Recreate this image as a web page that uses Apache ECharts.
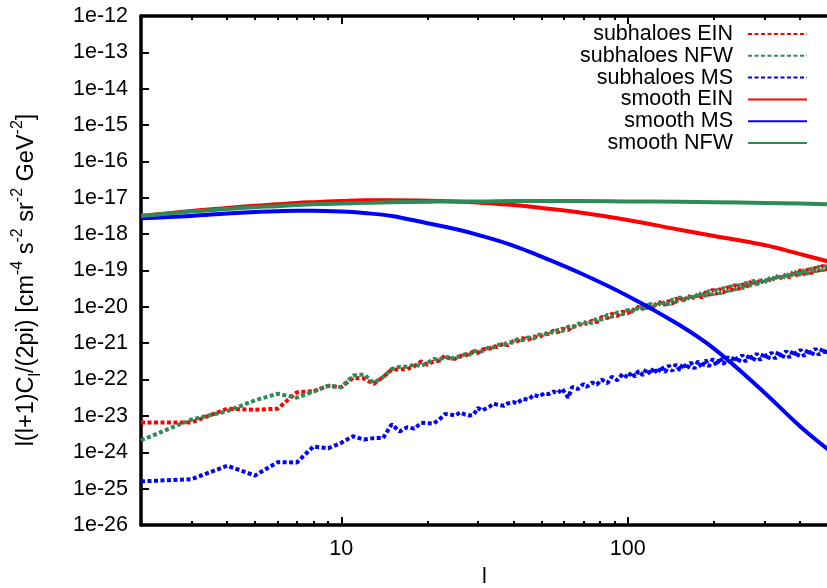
<!DOCTYPE html>
<html><head><meta charset="utf-8">
<script src="https://cdn.jsdelivr.net/npm/echarts@6/dist/echarts.min.js"></script>
<style>html,body{margin:0;padding:0;background:#fff}#c{width:827px;height:588px}</style>
</head><body><div id="c"></div>
<script>
// ---- data (values stored as log10 of l(l+1)C_l/(2pi)) ----
const lSmooth = [2,3,4,5,6,7,8,10,12,15,20,25,30,40,50,70,100,150,200,300,400,500];
const smoothNFW = [-17.50,-17.38,-17.31,-17.26,-17.23,-17.20,-17.18,-17.16,-17.14,-17.12,-17.11,-17.10,-17.10,-17.09,-17.09,-17.09,-17.10,-17.11,-17.12,-17.14,-17.16,-17.18];
const smoothEIN = [-17.50,-17.36,-17.28,-17.22,-17.18,-17.14,-17.12,-17.09,-17.07,-17.07,-17.08,-17.10,-17.13,-17.20,-17.28,-17.42,-17.61,-17.87,-18.05,-18.30,-18.55,-18.75];
const smoothMS  = [-17.56,-17.50,-17.43,-17.39,-17.37,-17.36,-17.36,-17.38,-17.42,-17.50,-17.70,-17.86,-18.02,-18.32,-18.62,-19.11,-19.70,-20.48,-21.15,-22.36,-23.29,-23.92];

const lLow = [2,3,4,5,6,7,8,9,10,11,12,13,14,15,16,17,18,19,20,21,22,23];
const subEINLow = [-23.18,-23.18,-22.80,-22.83,-22.80,-22.35,-22.32,-22.17,-22.21,-21.95,-21.97,-22.12,-21.93,-21.72,-21.72,-21.71,-21.63,-21.50,-21.59,-21.50,-21.48,-21.34];
const subNFWLow = [-23.67,-23.10,-22.87,-22.57,-22.39,-22.50,-22.33,-22.17,-22.21,-21.89,-21.86,-22.09,-21.93,-21.71,-21.65,-21.65,-21.59,-21.63,-21.54,-21.43,-21.46,-21.36];
const subMSLow  = [-24.80,-24.74,-24.37,-24.64,-24.27,-24.28,-23.84,-23.89,-23.74,-23.56,-23.65,-23.61,-23.61,-23.23,-23.43,-23.31,-23.35,-23.19,-23.20,-23.21,-23.10,-22.95];

const lHigh = [24,25,26,27,28,29,30,31,33,34, 35,37,38,40,41,43,45,47,49,51, 53,55,57,59,62,64,67,70,72,75,
  78,81,85,88,92,96,100,103,106,109, 113,116,120,123,127,131,135,139,143,147, 152,156,161,166,171,176,181,187,192,198,
  204,210,216,223,229,236,243,251,258,266, 274,282,290,299,308,317,327,336,346,357, 367,378,390,401,413,426,438,452,465,479, 493,500];
const subEINHigh = [-21.42,-21.43,-21.35,-21.36,-21.26,-21.25,-21.27,-21.17,-21.15,-21.07,
  -21.11,-21.00,-21.06,-20.93,-20.95,-20.86,-20.90,-20.81,-20.85,-20.73,
  -20.75,-20.65,-20.70,-20.60,-20.64,-20.53,-20.54,-20.41,-20.47,-20.38,
  -20.42,-20.28,-20.31,-20.19,-20.25,-20.13,-20.18,-20.05,-20.12,-19.99,
  -20.06,-19.94,-20.05,-19.91,-19.97,-19.84,-19.95,-19.83,-19.92,-19.77,
  -19.85,-19.71,-19.82,-19.66,-19.79,-19.64,-19.75,-19.59,-19.68,-19.52,
  -19.65,-19.50,-19.62,-19.45,-19.56,-19.39,-19.52,-19.37,-19.48,-19.31,
  -19.41,-19.25,-19.38,-19.22,-19.34,-19.17,-19.27,-19.11,-19.24,-19.08,
  -19.20,-19.03,-19.14,-18.98,-19.11,-18.96,-19.08,-18.91,-19.02,-18.86,
  -18.99,-18.86];
const subNFWHigh = [-21.45,-21.37,-21.38,-21.30,-21.32,-21.21,-21.23,-21.22,-21.10,-21.12,
  -21.04,-21.04,-20.97,-20.99,-20.89,-20.92,-20.84,-20.87,-20.76,-20.78,
  -20.68,-20.72,-20.63,-20.67,-20.54,-20.57,-20.46,-20.49,-20.39,-20.45,
  -20.31,-20.35,-20.22,-20.28,-20.15,-20.21,-20.08,-20.15,-20.02,-20.09,
  -19.96,-20.05,-19.91,-20.00,-19.88,-19.97,-19.84,-19.94,-19.79,-19.88,
  -19.73,-19.84,-19.71,-19.81,-19.64,-19.74,-19.60,-19.71,-19.55,-19.67,
  -19.52,-19.64,-19.47,-19.58,-19.42,-19.54,-19.39,-19.50,-19.33,-19.44,
  -19.27,-19.40,-19.25,-19.36,-19.19,-19.30,-19.13,-19.26,-19.11,-19.22,
  -19.05,-19.16,-19.00,-19.13,-18.98,-19.10,-18.93,-19.04,-18.88,-19.01,
  -18.86,-18.96];
const subMSHigh = [-22.96,-22.99,-22.90,-22.96,-22.99,-22.96,-22.78,-22.85,-22.74,-22.66,
  -22.69,-22.72,-22.66,-22.62,-22.66,-22.53,-22.55,-22.42,-22.47,-22.38,
  -22.40,-22.33,-22.38,-22.25,-22.50,-22.20,-22.26,-22.12,-22.20,-22.08,
  -22.14,-22.00,-22.10,-21.92,-22.02,-21.84,-21.95,-21.80,-21.92,-21.76,
  -21.88,-21.71,-21.85,-21.68,-21.83,-21.64,-21.80,-21.61,-21.77,-21.58,
  -21.75,-21.55,-21.71,-21.52,-21.70,-21.49,-21.67,-21.46,-21.64,-21.43,
  -21.61,-21.40,-21.58,-21.37,-21.55,-21.35,-21.53,-21.32,-21.51,-21.30,
  -21.49,-21.28,-21.47,-21.26,-21.45,-21.25,-21.43,-21.22,-21.42,-21.21,
  -21.40,-21.19,-21.38,-21.17,-21.36,-21.16,-21.35,-21.14,-21.33,-21.13,
  -21.32,-21.14];

const xMajorTicks = [10, 100];
const xMinorTicks = [3,4,5,6,7,8,9,20,30,40,50,60,70,80,90,200,300,400];
const yTickExps = [-26,-25,-24,-23,-22,-21,-20,-19,-18,-17,-16,-15,-14,-13,-12];
const seriesNames = ['subhaloes EIN','subhaloes NFW','subhaloes MS','smooth EIN','smooth MS','smooth NFW'];

// ---- build ----
const toPts = (ls, vs) => ls.map((l, i) => [l, Math.pow(10, vs[i])]);
const RED = '#ff0000', GREEN = '#2e8b57', BLUE = '#0000ff';
const FONT = 'Liberation Sans, Arial, Helvetica, sans-serif';
const FS = 21.5;
const yTicks = yTickExps.map(e => Math.pow(10, e));

function dashed(name, color, data) {
  return { name, type: 'line', data, xAxisIndex: 0, showSymbol: false, symbol: 'none',
    lineStyle: { color, width: 4, type: [4, 2.5] }, itemStyle: { color }, silent: true, animation: false };
}
function solid(name, color, data) {
  return { name, type: 'line', data, xAxisIndex: 0, showSymbol: false, symbol: 'none', smooth: 0.4,
    lineStyle: { color, width: 4 }, itemStyle: { color }, silent: true, animation: false };
}
function xAx(pos, ticks, len, extra) {
  return Object.assign({ type: 'log', logBase: 10, min: 2, max: 500, position: pos, gridIndex: 0,
    axisLine: { show: false }, splitLine: { show: false },
    axisTick: { show: true, inside: true, length: len, customValues: ticks, lineStyle: { color: '#000', width: 2 } },
    axisLabel: { show: false } }, extra || {});
}

const chart = echarts.init(document.getElementById('c'), null, { renderer: 'canvas' });
chart.setOption({
  animation: false,
  backgroundColor: '#fff',
  grid: { left: 141, right: -1, top: 16, bottom: 63, containLabel: false, outerBoundsMode: 'none' },
  xAxis: [
    xAx('bottom', xMajorTicks, 8, {
      axisLine: { show: true, onZero: false, lineStyle: { color: '#000', width: 3.5 } },
      axisLabel: { show: true, customValues: xMajorTicks, margin: 13, color: '#000', fontSize: FS, fontFamily: FONT,
        formatter: v => String(Math.round(v)) },
      name: 'l', nameLocation: 'middle', nameGap: 41, nameTextStyle: { color: '#000', fontSize: FS, fontFamily: FONT }
    }),
    xAx('bottom', xMinorTicks, 4),
    xAx('top', xMajorTicks, 8, { axisLine: { show: true, onZero: false, lineStyle: { color: '#000', width: 3.5 } } }),
    xAx('top', xMinorTicks, 4)
  ],
  yAxis: [{
    type: 'log', logBase: 10, min: 1e-26, max: 1e-12, position: 'left',
    axisLine: { show: true, onZero: false, lineStyle: { color: '#000', width: 3.5 } },
    splitLine: { show: false },
    axisTick: { show: true, inside: true, length: 8, customValues: yTicks, lineStyle: { color: '#000', width: 2 } },
    axisLabel: { show: true, customValues: yTicks, margin: 13, color: '#000', fontSize: FS, fontFamily: FONT,
      formatter: v => '1e' + Math.round(Math.log10(v)) }
  }],
  legend: {
    show: true, right: 14, top: 18, orient: 'vertical', align: 'right',
    itemWidth: 59, itemHeight: 14, itemGap: -0.2,
    itemStyle: { opacity: 0 },
    data: seriesNames,
    textStyle: { color: '#000', fontSize: FS, fontFamily: FONT, padding: [0, 10, 0, 0] },
    selectedMode: false
  },
  graphic: [{
    type: 'text', x: 27, y: 280, rotation: Math.PI / 2,
    style: {
      text: '{b|l(l+1)C}{sub|l}{b|/(2pi) [cm}{sup|-4}{b| s}{sup|-2}{b| sr}{sup|-2}{b| GeV}{sup|-2}{b|]}',
      align: 'center', verticalAlign: 'middle', fill: '#000',
      rich: {
        b: { fontSize: 23.5, fontFamily: FONT, lineHeight: 34, verticalAlign: 'middle', fill: '#000' },
        sup: { fontSize: 16, fontFamily: FONT, lineHeight: 16, verticalAlign: 'top', fill: '#000' },
        sub: { fontSize: 16, fontFamily: FONT, lineHeight: 16, verticalAlign: 'bottom', fill: '#000' }
      }
    }
  }],
  series: [
    dashed('subhaloes EIN', RED, toPts(lLow.concat(lHigh), subEINLow.concat(subEINHigh))),
    dashed('subhaloes NFW', GREEN, toPts(lLow.concat(lHigh), subNFWLow.concat(subNFWHigh))),
    dashed('subhaloes MS', BLUE, toPts(lLow.concat(lHigh), subMSLow.concat(subMSHigh))),
    solid('smooth EIN', RED, toPts(lSmooth, smoothEIN)),
    solid('smooth MS', BLUE, toPts(lSmooth, smoothMS)),
    solid('smooth NFW', GREEN, toPts(lSmooth, smoothNFW))
  ]
});
</script>
</body></html>
